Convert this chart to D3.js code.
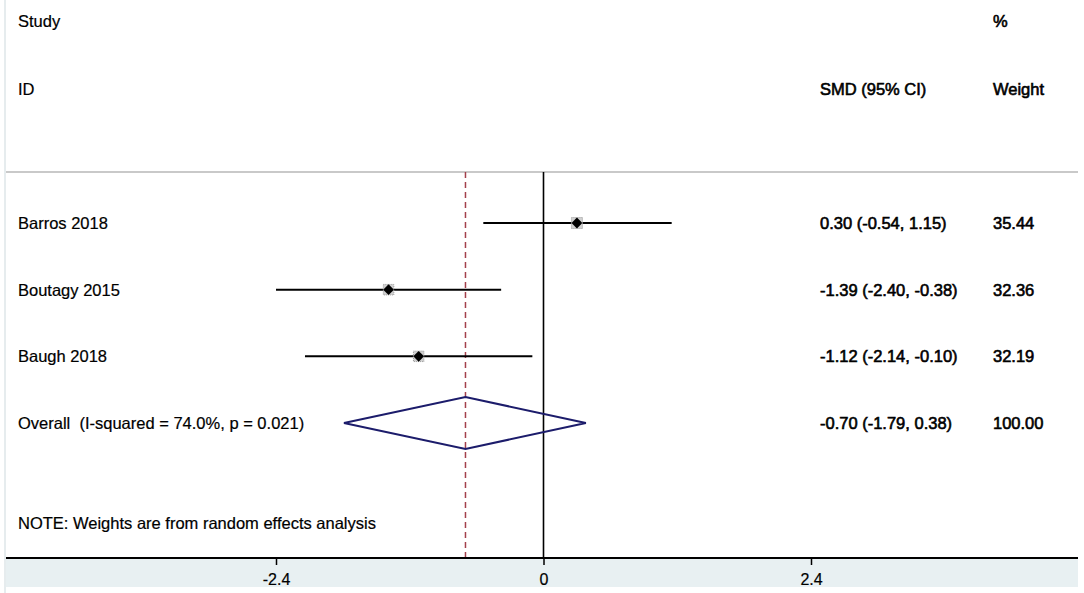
<!DOCTYPE html>
<html>
<head>
<meta charset="utf-8">
<script src="https://cdn.jsdelivr.net/npm/d3@7"></script>
<style>
  body { margin: 0; background: #fff; }
  text { font-family: "Liberation Sans", Arial, sans-serif; font-size: 16.5px; fill: #000; white-space: pre;
         stroke: #000; stroke-width: 0.2px; }
  text.num { stroke-width: 0.6px; }
</style>
</head>
<body>
<script>
// studies (from the picture)
const studies = ["Barros 2018", "Boutagy 2015", "Baugh 2018"];
const smd = [0.30, -1.39, -1.12];
const lower = [-0.54, -2.40, -2.14];
const upper = [1.15, -0.38, -0.10];
const weights = ["35.44", "32.36", "32.19"];

// overall result
const overallLabel = "Overall  (I-squared = 74.0%, p = 0.021)";
const overall = { est: -0.70, lo: -1.79, hi: 0.38, weight: "100.00" };

const tickValues = [-2.4, 0, 2.4];
const tickLabels = ["-2.4", "0", "2.4"];

const W = 1084, H = 593;
const headerY = 172, axisY = 558;

const svg = d3.select("body").append("svg")
  .attr("width", W)
  .attr("height", H);

const x = d3.scaleLinear().domain([-2.4, 2.4]).range([276, 811]);
const rows = d3.scalePoint().domain([...studies, overallLabel]).range([223, 423]);

// fond + chenare
svg.append("line")
  .attr("x1", 5).attr("x2", 5).attr("y1", 0).attr("y2", H)
  .attr("stroke", "#e6ecee").attr("stroke-width", 2);

svg.append("rect")
  .attr("x", 6).attr("y", axisY)
  .attr("width", 1072).attr("height", 29)
  .attr("fill", "#e8f0f2");

svg.append("line")
  .attr("x1", 6).attr("x2", 1078).attr("y1", headerY).attr("y2", headerY)
  .attr("stroke", "#c9c9c9").attr("stroke-width", 2);

// antet
const fmt = d => d.toFixed(2);
svg.append("text").attr("x", 18).attr("y", 27).text("Study");
svg.append("text").attr("x", 18).attr("y", 95).text("ID");
svg.append("text").attr("class", "num").attr("x", 820).attr("y", 95).text("SMD (95% CI)");
svg.append("text").attr("class", "num").attr("x", 993).attr("y", 27).text("%");
svg.append("text").attr("class", "num").attr("x", 993).attr("y", 95).text("Weight");

// linia de zero si linia efectului global
svg.append("line")
  .attr("x1", x(0)).attr("x2", x(0)).attr("y1", headerY).attr("y2", axisY)
  .attr("stroke", "#000").attr("stroke-width", 1.6);

svg.append("line")
  .attr("x1", x(overall.est)).attr("x2", x(overall.est)).attr("y1", headerY).attr("y2", axisY)
  .attr("stroke", "#a3404b").attr("stroke-width", 1.5)
  .attr("stroke-dasharray", "6,4");

// studiile
studies.forEach((s, i) => {
  const y = rows(s);
  svg.append("text").attr("x", 18).attr("y", y + 6).text(s);

  svg.append("line")
    .attr("x1", x(lower[i])).attr("x2", x(upper[i]))
    .attr("y1", y).attr("y2", y)
    .attr("stroke", "#000").attr("stroke-width", 2);

  // patratul de pondere (mic, gri)
  const b = 11 * Math.sqrt(+weights[i] / 35.44);
  svg.append("rect")
    .attr("x", x(smd[i]) - b / 2).attr("y", y - b / 2)
    .attr("width", b).attr("height", b)
    .attr("fill", "#d0d0d0").attr("stroke", "#9a9a9a")
    .attr("stroke-dasharray", "1,1");

  // romb negru (patrat rotit)
  svg.append("path")
    .attr("d", d3.symbol(d3.symbolSquare, 58)())
    .attr("transform", `translate(${x(smd[i])},${y}) rotate(45)`)
    .attr("fill", "#000");

  svg.append("text").attr("class", "num").attr("x", 820).attr("y", y + 6)
    .text(`${fmt(smd[i])} (${fmt(lower[i])}, ${fmt(upper[i])})`);
  svg.append("text").attr("class", "num").attr("x", 993).attr("y", y + 6).text(weights[i]);
});

// rezultatul global
const oy = rows(overallLabel);
svg.append("text").attr("x", 18).attr("y", oy + 6).text(overallLabel);
svg.append("path")
  .attr("d", `M${x(overall.lo)},${oy} L${x(overall.est)},${oy - 26} L${x(overall.hi)},${oy} L${x(overall.est)},${oy + 26} Z`)
  .attr("fill", "none").attr("stroke", "#1c1c6b").attr("stroke-width", 2);
svg.append("text").attr("class", "num").attr("x", 820).attr("y", oy + 6)
  .text(`${fmt(overall.est)} (${fmt(overall.lo)}, ${fmt(overall.hi)})`);
svg.append("text").attr("class", "num").attr("x", 993).attr("y", oy + 6).text(overall.weight);

svg.append("text").attr("x", 18).attr("y", 529)
  .text("NOTE: Weights are from random effects analysis");

// axa
svg.append("line")
  .attr("x1", 6).attr("x2", 1078).attr("y1", axisY).attr("y2", axisY)
  .attr("stroke", "#000").attr("stroke-width", 2);

const axis = svg.append("g")
  .attr("transform", `translate(0,${axisY})`)
  .call(d3.axisBottom(x).tickValues(tickValues)
    .tickFormat((d, i) => tickLabels[i]).tickSize(7).tickPadding(9));
axis.select(".domain").remove();
axis.selectAll("line").attr("stroke", "#000").attr("stroke-width", 1.5);
axis.selectAll("text")
  .style("font-family", '"Liberation Sans", Arial, sans-serif')
  .style("font-size", "16px").attr("fill", "#000");
</script>
</body>
</html>
